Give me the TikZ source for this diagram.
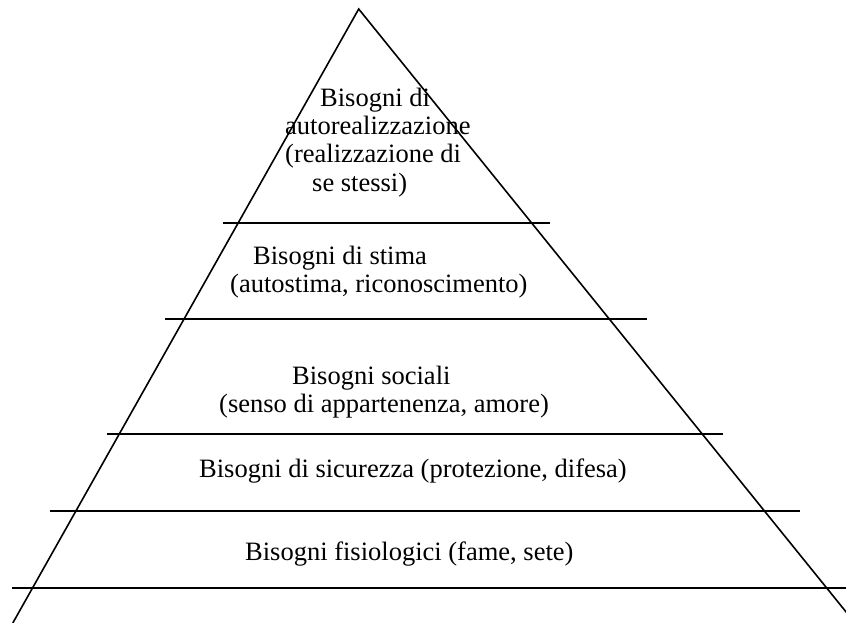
\documentclass[tikz,border=0pt]{standalone}
\usepackage{fontspec}
\setmainfont{Liberation Serif}
\begin{document}
\begin{tikzpicture}[x=1pt,y=-1pt,
  edge/.style={line width=1.6pt,black},
  label/.style={anchor=base west,inner sep=0pt,font=\fontsize{26.5}{28.5}\selectfont}]
\useasboundingbox (0,0) rectangle (846,623);
% pyramid outline
\coordinate (apex) at (358.7,9);
\coordinate (bl) at (12.8,623);
\coordinate (br) at (855,623);
\draw[edge] (bl) -- (apex) -- (br);
% level separators
\coordinate (s1a) at (222.7,222.7); \coordinate (s1b) at (550,222.7);
\coordinate (s2a) at (165,319);     \coordinate (s2b) at (646.7,319);
\coordinate (s3a) at (107.3,434);   \coordinate (s3b) at (723.3,434);
\coordinate (s4a) at (50,510.7);    \coordinate (s4b) at (800,510.7);
\coordinate (s5a) at (12,588);      \coordinate (s5b) at (846,588);
\foreach \i in {1,...,5} \draw[edge] (s\i a) -- (s\i b);
% level texts
\node[label] (t1) at (320,107) {Bisogni di};
\node[label] (t2) at (285,135) {autorealizzazione};
\node[label] (t3) at (285,163) {(realizzazione di};
\node[label] (t4) at (312,191) {se stessi)};
\node[label] (t5) at (253,264) {Bisogni di stima};
\node[label] (t6) at (230,292) {(autostima, riconoscimento)};
\node[label] (t7) at (292,384) {Bisogni sociali};
\node[label] (t8) at (219,412) {(senso di appartenenza, amore)};
\node[label] (t9) at (199,477) {Bisogni di sicurezza (protezione, difesa)};
\node[label] (t10) at (245,560) {Bisogni fisiologici (fame, sete)};
\end{tikzpicture}
\end{document}
